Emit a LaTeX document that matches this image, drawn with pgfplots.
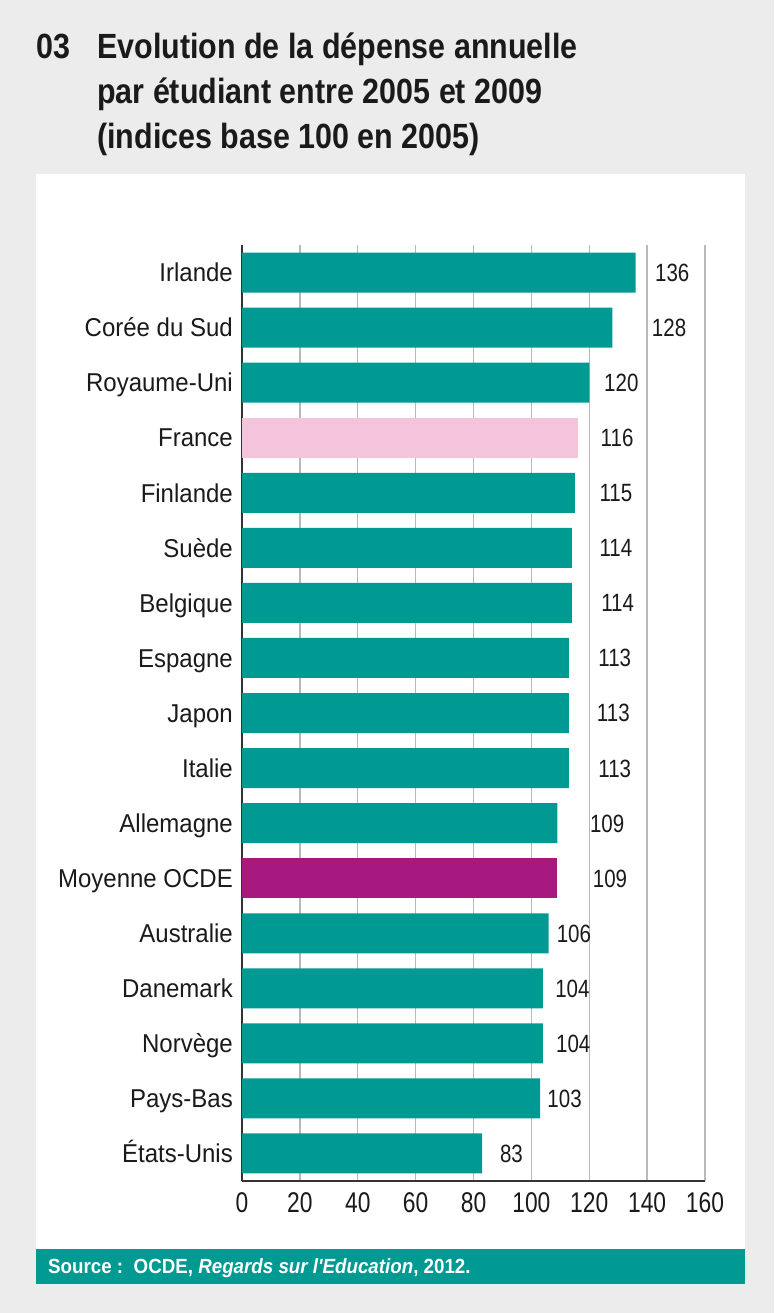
\documentclass[border=0pt]{standalone}
\usepackage{fontspec}
\setmainfont{Liberation Sans}
\newfontfamily\titlefont{Liberation Sans}[FakeStretch=0.87]
\newfontfamily\catfont{Liberation Sans}[FakeStretch=0.93]
\newfontfamily\valfont{Liberation Sans}[FakeStretch=0.82]
\newfontfamily\tickfont{Liberation Sans}[FakeStretch=0.8]
\newfontfamily\srcfont{Liberation Sans}[FakeStretch=0.915,Ligatures=TeXOff]
\usepackage{pgfplots}
\pgfplotsset{compat=1.18}
\definecolor{bggray}{RGB}{236,236,236}
\definecolor{tealbar}{RGB}{0,154,147}
\definecolor{pinkbar}{RGB}{244,196,221}
\definecolor{magbar}{RGB}{168,25,128}
\definecolor{gridgray}{RGB}{185,185,185}
\definecolor{txt}{RGB}{26,26,26}
\begin{document}
\begin{tikzpicture}
\useasboundingbox (0,0) rectangle (774pt,-1313pt);
\fill[bggray] (0,0) rectangle (774pt,-1313pt);
\fill[white] (36pt,-174pt) rectangle (745pt,-1249pt);
\fill[tealbar] (36pt,-1249pt) rectangle (745pt,-1284pt);
\node[anchor=west, inner sep=0pt, text=white, font=\srcfont\bfseries\fontsize{20.5}{20.5}\selectfont, text height=14.7pt, text depth=0pt] at (48pt,-1266.5pt) {Source :\ \ OCDE, \textit{Regards sur l'Education}, 2012.};
\begin{scope}[every node/.style={inner sep=0pt, anchor=base west, text=txt, font=\titlefont\bfseries\fontsize{35}{45}\selectfont}]
\node at (36pt,-59pt) {03};
\node at (97pt,-59pt) {Evolution de la dépense annuelle};
\node at (97pt,-104pt) {par étudiant entre 2005 et 2009};
\node at (97pt,-149pt) {(indices base 100 en 2005)};
\end{scope}
\begin{axis}[
  at={(242pt,-1181pt)}, anchor=south west,
  scale only axis, width=463pt, height=936pt,
  xmin=0, xmax=160, ymin=-0.5, ymax=16.5,
  y dir=reverse,
  clip=false,
  axis x line*=bottom, axis y line*=left,
  axis line style={-, line width=1.6pt, color=black!80},
  xtick={0,20,...,160},
  ytick={0,...,16},
  yticklabels={Irlande,Corée du Sud,Royaume-Uni,France,Finlande,Suède,Belgique,Espagne,Japon,Italie,Allemagne,Moyenne OCDE,Australie,Danemark,Norvège,Pays-Bas,États-Unis},
  major tick length=0pt,
  xmajorgrids, ymajorgrids=false,
  grid style={line width=1.3pt, color=gridgray},
  /pgf/number format/assume math mode=true,
  yticklabel style={font=\catfont\fontsize{25.8}{25.8}\selectfont, text=txt, anchor=east, inner sep=0pt, xshift=-9pt, text height=18.5pt, text depth=0pt},
  xticklabel style={font=\tickfont\fontsize{28.5}{28.5}\selectfont, text=txt, anchor=north, inner sep=0pt, yshift=-10.5pt, text height=20.5pt, text depth=0pt},
]
\addplot[xbar, bar width=40pt, bar shift=0pt, fill=tealbar, draw=none] coordinates {
(136,0) (128,1) (120,2) (115,4) (114,5) (114,6) (113,7) (113,8) (113,9) (109,10) (106,12) (104,13) (104,14) (103,15) (83,16)};
\addplot[xbar, bar width=40pt, bar shift=0pt, fill=pinkbar, draw=none] coordinates {(116,3)};
\addplot[xbar, bar width=40pt, bar shift=0pt, fill=magbar, draw=none] coordinates {(109,11)};
\addplot[draw=none, mark=none, nodes near coords, point meta=explicit symbolic,
  every node near coord/.append style={anchor=west, inner sep=0pt, text=txt, font=\valfont\fontsize{25}{25}\selectfont, text height=17.9pt, text depth=0pt}]
coordinates {
(142.7,0)[136] (141.6,1)[128] (125.1,2)[120] (123.9,3)[116] (123.5,4)[115] (123.5,5)[114] (124.1,6)[114] (123.1,7)[113] (122.6,8)[113] (123.1,9)[113] (120.2,10)[109] (121.2,11)[109] (108.7,12)[106] (108.2,13)[104] (108.5,14)[104] (105.5,15)[103] (89.1,16)[83]};
\end{axis}
\end{tikzpicture}
\end{document}
